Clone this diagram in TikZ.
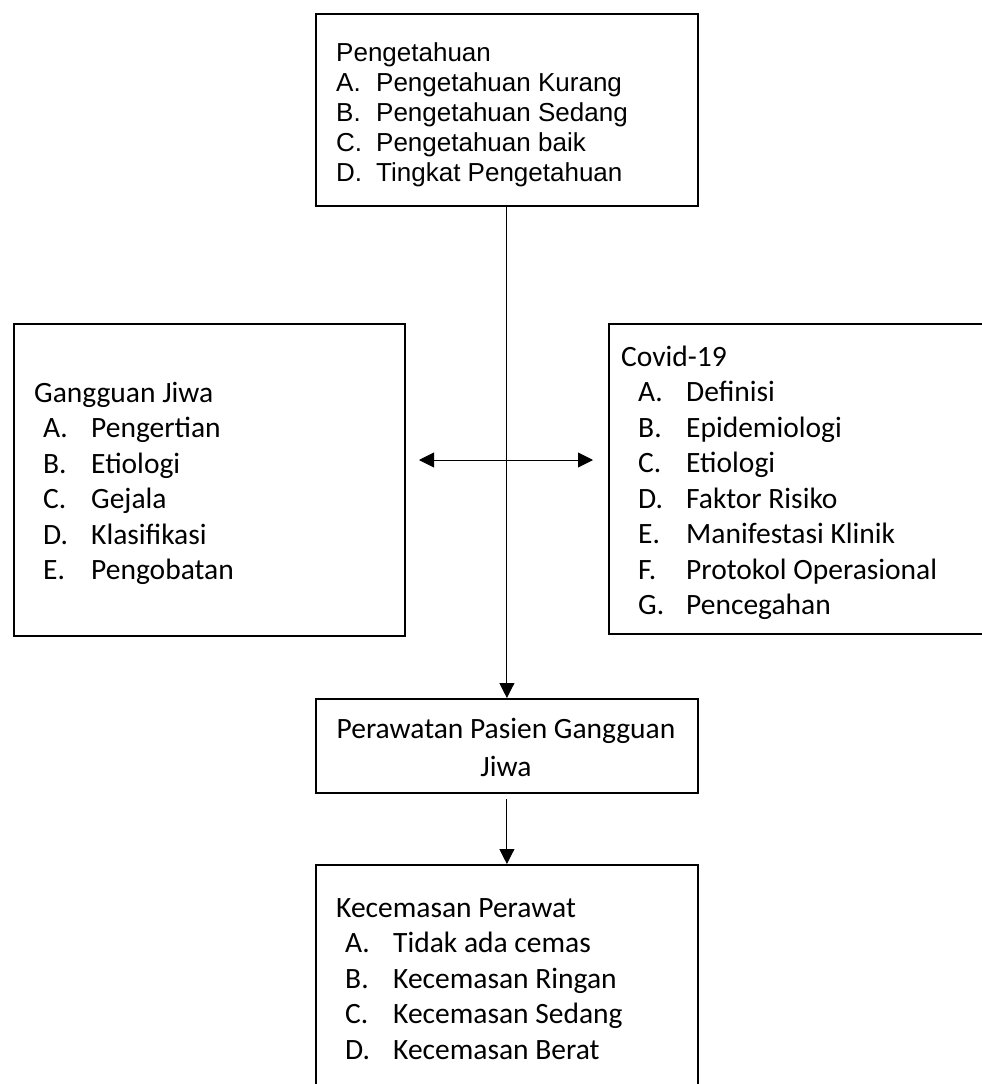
\documentclass[tikz,border=0pt]{standalone}
\usepackage{fontspec}
\setmainfont{Carlito}
\newfontfamily\arialfont{Liberation Sans}
\usetikzlibrary{arrows.meta,positioning}

\tikzset{
  kotak/.style={draw, line width=1.8pt, anchor=north west, inner sep=0pt},
  isi/.style={anchor=north west, inner sep=0pt, align=flush left, text width=340pt,
    font=\fontsize{29.5}{35.5}\selectfont},
  panah/.style={line width=0.9pt, -{Triangle[length=15pt,width=15pt]}},
}
\newcommand{\butir}[3][9pt]{\hspace*{#1}\makebox[48pt][l]{#2}#3}

\begin{document}
\begin{tikzpicture}[x=1pt,y=-1pt]
  \useasboundingbox (0,0) rectangle (982,1084);
  \clip (0,0) rectangle (982,1084);

  \node[kotak, minimum width=382pt, minimum height=192pt] (pengetahuan) at (315,13) {};
  \node[kotak, minimum width=391pt, minimum height=312pt] (gangguan) at (13,323) {};
  \node[kotak, minimum width=392pt, minimum height=310pt] (covid) at (608,323) {};
  \node[kotak, minimum width=382pt, minimum height=94pt] (perawatan) at (315,698) {};
  \node[kotak, minimum width=382pt, minimum height=232pt] (kecemasan) at (315,864) {};

  \node[isi, font=\arialfont\fontsize{26}{30}\selectfont] (pengetahuan-isi) at (336,40)
    {\strut Pengetahuan\\
     \makebox[40pt][l]{A.}Pengetahuan Kurang\\
     \makebox[40pt][l]{B.}Pengetahuan Sedang\\
     \makebox[40pt][l]{C.}Pengetahuan baik\\
     \makebox[40pt][l]{D.}Tingkat Pengetahuan};

  \node[isi] (gangguan-isi) at (34,377)
    {\strut Gangguan Jiwa\\
     \butir{A.}{Pengertian}\\
     \butir{B.}{Etiologi}\\
     \butir{C.}{Gejala}\\
     \butir{D.}{Klasifikasi}\\
     \butir{E.}{Pengobatan}};

  \node[isi] (covid-isi) at (621,341)
    {\strut Covid-19\\
     \butir[17pt]{A.}{Definisi}\\
     \butir[17pt]{B.}{Epidemiologi}\\
     \butir[17pt]{C.}{Etiologi}\\
     \butir[17pt]{D.}{Faktor Risiko}\\
     \butir[17pt]{E.}{Manifestasi Klinik}\\
     \butir[17pt]{F.}{Protokol Operasional}\\
     \butir[17pt]{G.}{Pencegahan}};

  \node[isi, anchor=north, align=flush center, font=\fontsize{29.5}{38}\selectfont]
    (perawatan-isi) at (506,712) {\strut Perawatan Pasien Gangguan\\Jiwa};

  \node[isi] (kecemasan-isi) at (336,892)
    {\strut Kecemasan Perawat\\
     \butir{A.}{Tidak ada cemas}\\
     \butir{B.}{Kecemasan Ringan}\\
     \butir{C.}{Kecemasan Sedang}\\
     \butir{D.}{Kecemasan Berat}};

  \coordinate (kiri) at (419,460);
  \coordinate (kanan) at (593,460);

  \draw[panah] (pengetahuan) -- (perawatan);
  \draw[panah, shorten <=5pt] (perawatan) -- (kecemasan);
  \draw[panah, {Triangle[length=15pt,width=15pt]}-{Triangle[length=15pt,width=15pt]}] (kiri) -- (kanan);
\end{tikzpicture}
\end{document}
